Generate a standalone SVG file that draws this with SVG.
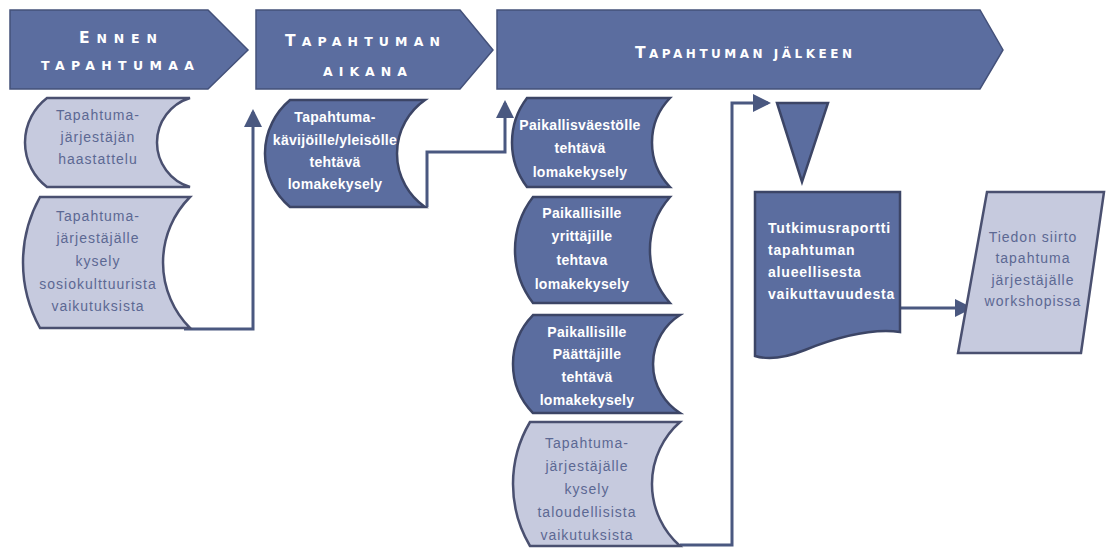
<svg xmlns="http://www.w3.org/2000/svg" width="1108" height="548" viewBox="0 0 1108 548">
<defs>
<marker id="ah" markerWidth="6" markerHeight="6" refX="5" refY="3" orient="auto" markerUnits="strokeWidth">
<path d="M0,0 L6,3 L0,6 Z" fill="#4a5880"/>
</marker>
<style>
.hdr{fill:#5b6d9f;stroke:#44517a;stroke-width:1.5}
.dark{fill:#5b6d9f;stroke:#3c4566;stroke-width:2.5}
.light{fill:#c6cade;stroke:#4a5070;stroke-width:2.5}
.hh{font-family:"DejaVu Sans","Liberation Sans",sans-serif;font-weight:bold;fill:#ffffff}
.ht{font-family:"Liberation Sans",Arial,sans-serif;font-weight:bold;fill:#ffffff}
.dt{font-family:"Liberation Sans",Arial,sans-serif;font-weight:bold;font-size:14px;fill:#ffffff;text-anchor:middle;letter-spacing:0.3px}
.lt{font-family:"Liberation Sans",Arial,sans-serif;font-size:14px;fill:#5c6893;text-anchor:middle;letter-spacing:1px}
.con{fill:none;stroke:#4a5880;stroke-width:3}
</style>
</defs>
<rect width="1108" height="548" fill="#ffffff"/>

<g id="header-ennen">
<path class="hdr" d="M10,10 H208 L248,50 L208,89 H10 Z"/>
<text class="hh" x="79" y="43" font-size="12.5" textLength="78" lengthAdjust="spacing"><tspan font-size="15.5">E</tspan>NNEN</text>
<text class="hh" x="41" y="70" font-size="12.5" textLength="153" lengthAdjust="spacing">TAPAHTUMAA</text>
</g>
<g id="header-aikana">
<path class="hdr" d="M256,10 H460 L493,50 L460,89 H256 Z"/>
<text class="hh" x="285" y="46" font-size="12.5" textLength="155" lengthAdjust="spacing"><tspan font-size="15.5">T</tspan>APAHTUMAN</text>
<text class="hh" x="323" y="76" font-size="12.5" textLength="84" lengthAdjust="spacing">AIKANA</text>
</g>
<g id="header-jalkeen">
<path class="hdr" d="M497,10 H980 L1003,50 L980,89 H497 Z"/>
<text class="hh" x="635" y="58" font-size="12" textLength="217" lengthAdjust="spacing"><tspan font-size="15.5">T</tspan>APAHTUMAN JÄLKEEN</text>
</g>

<g id="connectors">
<path class="con" d="M184,329 H253 V112" marker-end="url(#ah)"/>
<path class="con" d="M427,207 V152 H505 V103" marker-end="url(#ah)"/>
<path class="con" d="M680,545 H732 V103 H768" marker-end="url(#ah)"/>
<path class="con" d="M900,308 H970" marker-end="url(#ah)"/>
</g>

<g id="node-haastattelu">
<path class="light" d="M47,98 H190 A46.5,46.5 0 0 0 190,187 H47 A56,56 0 0 1 47,98 Z"/>
<text class="lt" x="98" y="120">Tapahtuma-</text>
<text class="lt" x="98" y="142">järjestäjän</text>
<text class="lt" x="98" y="164">haastattelu</text>
</g>
<g id="node-sosiokulttuuri">
<path class="light" d="M40,197 H190 A93,93 0 0 0 190,328 H40 A134.7,134.7 0 0 1 40,197 Z"/>
<text class="lt" x="98" y="221">Tapahtuma-</text>
<text class="lt" x="98" y="243">järjestäjälle</text>
<text class="lt" x="98" y="266">kysely</text>
<text class="lt" x="98" y="289">sosiokulttuurista</text>
<text class="lt" x="98" y="311">vaikutuksista</text>
</g>
<g id="node-kavijat">
<path class="dark" d="M290,100 H425 A65.1,65.1 0 0 0 425,207 H290 A69.7,69.7 0 0 1 290,100 Z"/>
<text class="dt" x="335" y="122">Tapahtuma-</text>
<text class="dt" x="335" y="145">kävijöille/yleisölle</text>
<text class="dt" x="335" y="167">tehtävä</text>
<text class="dt" x="335" y="189">lomakekysely</text>
</g>
<g id="node-paikallisvaesto">
<path class="dark" d="M527,98 H670 A64,64 0 0 0 670,187 H527 A73.5,73.5 0 0 1 527,98 Z"/>
<text class="dt" x="580" y="130">Paikallisväestölle</text>
<text class="dt" x="580" y="153">tehtävä</text>
<text class="dt" x="580" y="177">lomakekysely</text>
</g>
<g id="node-yrittajat">
<path class="dark" d="M533,197 H670 A80,80 0 0 0 670,303 H533 A87,87 0 0 1 533,197 Z"/>
<text class="dt" x="582" y="218">Paikallisille</text>
<text class="dt" x="582" y="241">yrittäjille</text>
<text class="dt" x="582" y="265">tehtava</text>
<text class="dt" x="582" y="289">lomakekysely</text>
</g>
<g id="node-paattajat">
<path class="dark" d="M533,315 H680 A58,58 0 0 0 680,413 H533 A70,70 0 0 1 533,315 Z"/>
<text class="dt" x="587" y="337">Paikallisille</text>
<text class="dt" x="587" y="359">Päättäjille</text>
<text class="dt" x="587" y="382">tehtävä</text>
<text class="dt" x="587" y="405">lomakekysely</text>
</g>
<g id="node-taloudelliset">
<path class="light" d="M530,422 H680 A82.6,82.6 0 0 0 680,546 H530 A121.6,121.6 0 0 1 530,422 Z"/>
<text class="lt" x="587" y="448">Tapahtuma-</text>
<text class="lt" x="587" y="471">järjestäjälle</text>
<text class="lt" x="587" y="494">kysely</text>
<text class="lt" x="587" y="517">taloudellisista</text>
<text class="lt" x="587" y="540">vaikutuksista</text>
</g>
<g id="node-merge">
<path class="dark" d="M777,103 H828 L802,182 Z"/>
</g>
<g id="node-raportti">
<path class="dark" d="M755,192 H900 V332 C870,328 835,338 805,350 C785,358 768,360 755,356 Z"/>
<text class="ht" x="768" y="233" font-size="14" letter-spacing="0.8">Tutkimusraportti</text>
<text class="ht" x="768" y="255" font-size="14" letter-spacing="0.8">tapahtuman</text>
<text class="ht" x="768" y="277" font-size="14" letter-spacing="0.8">alueellisesta</text>
<text class="ht" x="768" y="299" font-size="14" letter-spacing="0.8">vaikuttavuudesta</text>
</g>
<g id="node-tiedonsiirto">
<path class="light" d="M987,192 H1104 L1081,353 H958 Z"/>
<text class="lt" x="1033" y="242">Tiedon siirto</text>
<text class="lt" x="1033" y="263">tapahtuma</text>
<text class="lt" x="1033" y="285">järjestäjälle</text>
<text class="lt" x="1033" y="306">workshopissa</text>
</g>
</svg>
